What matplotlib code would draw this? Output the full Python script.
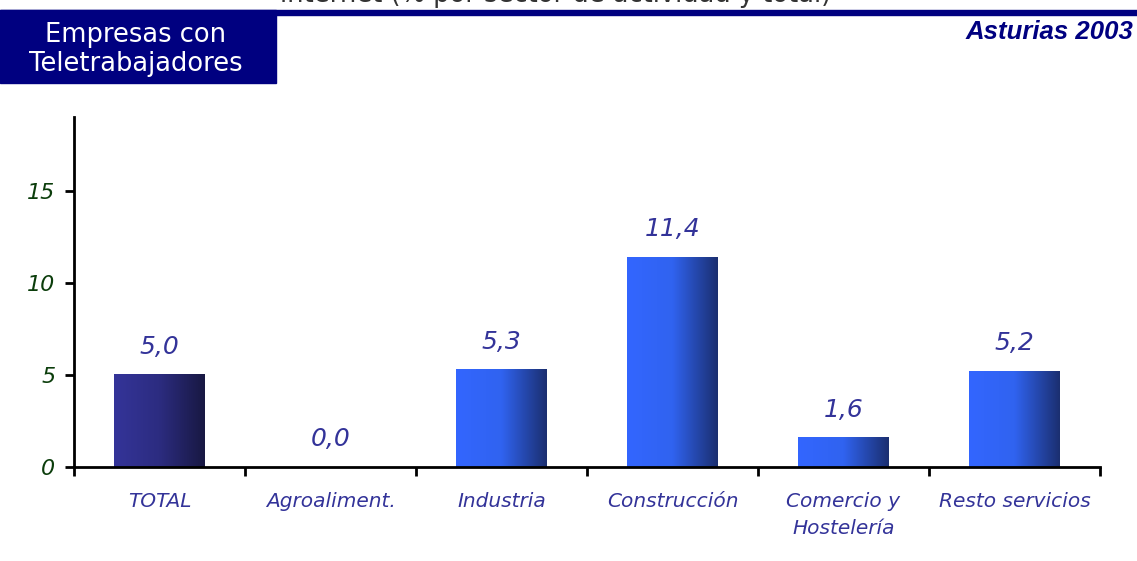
"""
Empresas con teletrabajadores por sector de actividad - Asturias 2003
"""

import matplotlib
matplotlib.use('Agg')
import matplotlib.pyplot as plt
from matplotlib.patches import Rectangle
from matplotlib.colors import LinearSegmentedColormap
import numpy as np


#################################
# Data                          #
#################################

categories = ['TOTAL', 'Agroaliment.', 'Industria', 'Construcción',
              'Comercio y\nHostelería', 'Resto servicios']
values = [5.0, 0.0, 5.3, 11.4, 1.6, 5.2]
yticks = [0, 5, 10, 15]

#################################

W, H = 1137, 561
navy = '#000080'
label_blue = '#333399'
tick_green = '#0b3d0b'

total_cmap = LinearSegmentedColormap.from_list('total', ['#343499', '#2c2c80', '#181842'])
sector_cmap = LinearSegmentedColormap.from_list('sector', ['#3366ff', '#3063f0', '#1b2f70'])


def fmt(v):
    return f'{v:.1f}'.replace('.', ',')


fig = plt.figure(figsize=(W / 100, H / 100), dpi=100)
fig.set_facecolor('white')

# header band, box and titles
fig.patches.append(Rectangle((0, 1 - 15 / H), 1, 5 / H, transform=fig.transFigure,
                             color=navy, zorder=1))
fig.patches.append(Rectangle((0, 1 - 83 / H), 276 / W, 73 / H, transform=fig.transFigure,
                             color=navy, zorder=1))
fig.text(136 / W, 1 - 49 / H, 'Empresas con\nTeletrabajadores', color='white',
         fontsize=18.5, ha='center', va='center', linespacing=1.15, family='DejaVu Sans')
fig.text(1133 / W, 1 - 32 / H, 'Asturias 2003', color=navy, fontsize=18.5,
         fontweight='bold', fontstyle='italic', ha='right', va='center',
         family='Liberation Sans')
# title line sits mostly above the image edge, as in the source
fig.text(556 / W, 1 + 5 / H, 'internet (% por sector de actividad y total)',
         color='#333333', fontsize=18.5, ha='center', va='center', family='DejaVu Sans')

ax = fig.add_axes([74 / W, 1 - 467 / H, (1100 - 74) / W, (467 - 117) / H])
x = np.arange(len(categories))
bars = ax.bar(x, values, width=0.53, color='none', zorder=2)

# horizontal gradient fill for each bar
grad = np.linspace(0, 1, 256).reshape(1, -1)
for i, b in enumerate(bars):
    if b.get_height() <= 0:
        continue
    x0, y0 = b.get_x(), b.get_y()
    cmap = total_cmap if i == 0 else sector_cmap
    ax.imshow(grad, cmap=cmap, aspect='auto', zorder=2,
              extent=[x0, x0 + b.get_width(), y0, y0 + b.get_height()])

for xi, v in zip(x, values):
    ax.annotate(fmt(v), (xi, v), xytext=(0, 20), textcoords='offset points',
                ha='center', va='center', fontsize=18, fontstyle='italic',
                color=label_blue)

ax.set_xlim(-0.5, len(categories) - 0.5)
ax.set_ylim(0, 19)
ax.set_yticks(yticks)
ax.set_yticklabels([str(t) for t in yticks], fontsize=16, fontstyle='italic',
                   color=tick_green)

# category boundary ticks, labels in between
ax.set_xticks(np.arange(len(categories) + 1) - 0.5)
ax.set_xticklabels([])
ax.set_xticks(x, minor=True)
ax.set_xticklabels(categories, minor=True, fontsize=14.5, fontstyle='italic',
                   color=label_blue, linespacing=1.5)
ax.tick_params(axis='x', which='minor', length=0, pad=18)
ax.tick_params(axis='x', which='major', length=6.5, width=2, direction='out')
ax.tick_params(axis='y', length=6.5, width=2, direction='out', pad=7)

for s in ['top', 'right']:
    ax.spines[s].set_visible(False)
for s in ['left', 'bottom']:
    ax.spines[s].set_linewidth(2)

plt.savefig('out.png', dpi=100)
plt.close()
